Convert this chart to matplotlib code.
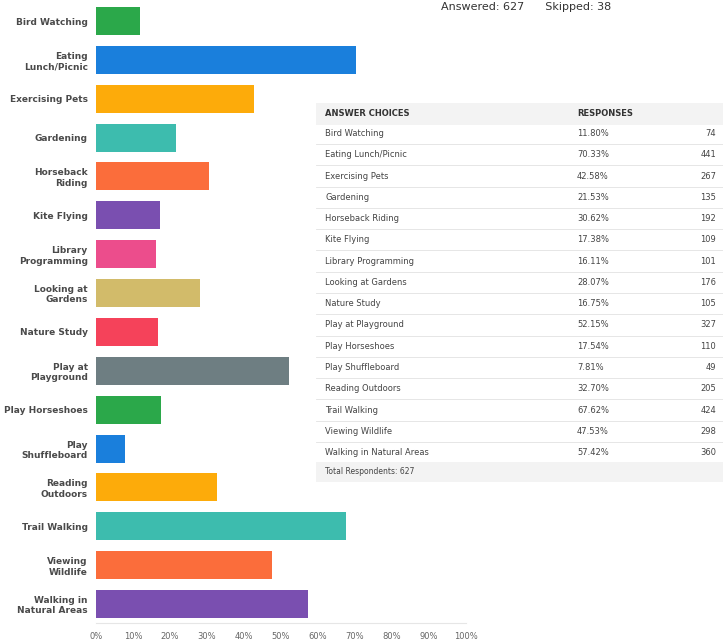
import matplotlib
matplotlib.use("Agg")
import matplotlib.pyplot as plt
from matplotlib.patches import Rectangle
from matplotlib.lines import Line2D

categories = ["Bird Watching", "Eating\nLunch/Picnic", "Exercising Pets", "Gardening",
              "Horseback\nRiding", "Kite Flying", "Library\nProgramming", "Looking at\nGardens",
              "Nature Study", "Play at\nPlayground", "Play Horseshoes", "Play\nShuffleboard",
              "Reading\nOutdoors", "Trail Walking", "Viewing\nWildlife", "Walking in\nNatural Areas"]
table_names = ["Bird Watching", "Eating Lunch/Picnic", "Exercising Pets", "Gardening",
               "Horseback Riding", "Kite Flying", "Library Programming", "Looking at Gardens",
               "Nature Study", "Play at Playground", "Play Horseshoes", "Play Shuffleboard",
               "Reading Outdoors", "Trail Walking", "Viewing Wildlife", "Walking in Natural Areas"]
percents = [11.80, 70.33, 42.58, 21.53, 30.62, 17.38, 16.11, 28.07,
            16.75, 52.15, 17.54, 7.81, 32.70, 67.62, 47.53, 57.42]
counts = [74, 441, 267, 135, 192, 109, 101, 176, 105, 327, 110, 49, 205, 424, 298, 360]
colors = ["#2ba84a", "#1a7fdc", "#fdab0a", "#3dbcae", "#fb6d3b", "#7a4fb0", "#ec4d8c", "#d2bb6a",
          "#f5425a", "#6e7e82", "#2ba84a", "#1a7fdc", "#fdab0a", "#3dbcae", "#fb6d3b", "#7a4fb0"]
xticks = [0, 10, 20, 30, 40, 50, 60, 70, 80, 90, 100]
answered = 627
skipped = 38

W, H = 723, 644
fig = plt.figure(figsize=(W / 100, H / 100), dpi=100)
fig.patch.set_facecolor("white")

ax = fig.add_axes([96 / W, (H - 623.4) / H, 370 / W, 621.8 / H])
y = list(range(len(categories)))
ax.barh(y, percents, height=0.72, color=colors)
ax.set_ylim(len(categories) - 0.5, -0.5)
ax.set_xlim(0, 100)
ax.set_xticks(xticks)
ax.set_xticklabels([f"{t}%" for t in xticks], fontsize=6, color="#666666")
ax.set_yticks(y)
ax.set_yticklabels(categories, fontsize=6.5, color="#4a4a4a", fontweight="bold")
ax.tick_params(axis="both", length=0, pad=6)
for s in ["top", "right", "left"]:
    ax.spines[s].set_visible(False)
ax.spines["bottom"].set_color("#e6e6e6")
ax.spines["bottom"].set_linewidth(0.8)

def fy(py):
    return (H - py) / H

def fx(px):
    return px / W

# header text
fig.text(fx(441), fy(7), f"Answered: {answered}      Skipped: {skipped}",
         fontsize=8, color="#333333", va="center", ha="left")

# table
tl, tr = 316, 723
fig.patches.append(Rectangle((fx(tl), fy(125)), fx(tr) - fx(tl), fy(103) - fy(125),
                             transform=fig.transFigure, facecolor="#f3f3f3", edgecolor="none", zorder=2))
fig.text(fx(325), fy(114), "ANSWER CHOICES", fontsize=6, fontweight="bold", color="#333333", va="center", zorder=3)
fig.text(fx(577), fy(114), "RESPONSES", fontsize=6, fontweight="bold", color="#333333", va="center", zorder=3)
row0 = 133.5
step = 21.27
for i, (n, p, c) in enumerate(zip(table_names, percents, counts)):
    yy = row0 + i * step
    fig.text(fx(325), fy(yy), n, fontsize=6, color="#444444", va="center", zorder=3)
    fig.text(fx(577), fy(yy), f"{p:.2f}%", fontsize=6, color="#444444", va="center", zorder=3)
    fig.text(fx(716), fy(yy), str(c), fontsize=6, color="#444444", va="center", ha="right", zorder=3)
    ly = yy + step / 2
    fig.lines.append(Line2D([fx(tl), fx(tr)], [fy(ly), fy(ly)], transform=fig.transFigure,
                            color="#e2e2e2", linewidth=0.6, zorder=2))
tot_y = row0 + len(table_names) * step - 2
fig.patches.append(Rectangle((fx(tl), fy(tot_y + 10)), fx(tr) - fx(tl), fy(tot_y - 10) - fy(tot_y + 10),
                             transform=fig.transFigure, facecolor="#f3f3f3", edgecolor="none", zorder=2))
fig.text(fx(325), fy(tot_y), f"Total Respondents: {answered}", fontsize=5.5, color="#444444", va="center", zorder=3)

fig.savefig("out.png", dpi=100, facecolor="white")
